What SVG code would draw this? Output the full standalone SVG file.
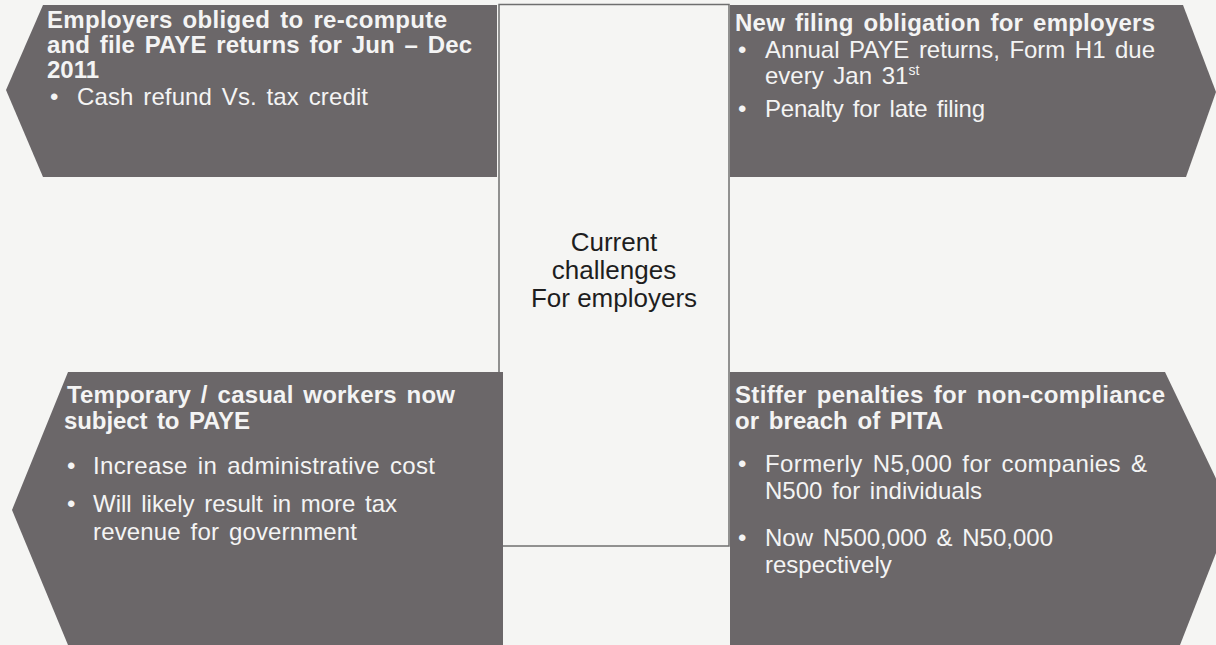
<svg xmlns="http://www.w3.org/2000/svg" width="1216" height="645" viewBox="0 0 1216 645">
  <style>
    .panel { fill: #6b6769; }
    .frame { fill: none; stroke: #6f6f6f; stroke-width: 1.5; }
    text { font-family: "Liberation Sans", Arial, sans-serif; font-size: 24px; fill: #f4f4f4; word-spacing: 3px; }
    .hd { font-weight: bold; }
    .sup { font-size: 14px; }
    .center { fill: #1e1e1e; font-size: 26px; text-anchor: middle; word-spacing: 0; }
  </style>
  <rect width="1216" height="645" fill="#f5f5f3"/>

  <!-- central frame, partly hidden behind the four panels -->
  <g id="connectors">
    <rect class="frame" x="499" y="4.5" width="230" height="541.5"/>
  </g>

  <g id="center-label">
    <text class="center" x="614" y="251">Current</text>
    <text class="center" x="614" y="279">challenges</text>
    <text class="center" x="614" y="307">For employers</text>
  </g>

  <g id="panel-top-left">
    <polygon class="panel" points="43,5 497,5 497,177 43,177 6,90"/>
    <text class="hd" x="47" y="28" textLength="400">Employers obliged to re-compute</text>
    <text class="hd" x="47" y="53" textLength="425">and file PAYE returns for Jun – Dec</text>
    <text class="hd" x="47" y="78">2011</text>
    <text x="50" y="105">•</text>
    <text x="77" y="105" textLength="291">Cash refund Vs. tax credit</text>
  </g>

  <g id="panel-top-right">
    <polygon class="panel" points="730,5 1183,5 1216,92 1186,177 730,177"/>
    <text class="hd" x="735" y="31" textLength="420">New filing obligation for employers</text>
    <text x="738" y="58">•</text>
    <text x="765" y="58" textLength="390">Annual PAYE returns, Form H1 due</text>
    <text x="765" y="84">every Jan 31<tspan class="sup" dy="-9">st</tspan></text>
    <text x="738" y="117">•</text>
    <text x="765" y="117" textLength="220">Penalty for late filing</text>
  </g>

  <g id="panel-bottom-left">
    <polygon class="panel" points="68,372 503,372 503,645 68,645 12,510"/>
    <text class="hd" x="67" y="403" textLength="388">Temporary / casual workers now</text>
    <text class="hd" x="64" y="429" textLength="186">subject to PAYE</text>
    <text x="67" y="474">•</text>
    <text x="93" y="474" textLength="342">Increase in administrative cost</text>
    <text x="67" y="512">•</text>
    <text x="93" y="512" textLength="304">Will likely result in more tax</text>
    <text x="93" y="540" textLength="264">revenue for government</text>
  </g>

  <g id="panel-bottom-right">
    <polygon class="panel" points="730,372 1165,372 1232,512 1180,645 730,645"/>
    <text class="hd" x="735" y="403" textLength="430">Stiffer penalties for non-compliance</text>
    <text class="hd" x="735" y="429" textLength="208">or breach of PITA</text>
    <text x="738" y="472">•</text>
    <text x="765" y="472" textLength="382">Formerly N5,000 for companies &amp;</text>
    <text x="765" y="499" textLength="217">N500 for individuals</text>
    <text x="738" y="546">•</text>
    <text x="765" y="546" textLength="288">Now N500,000 &amp; N50,000</text>
    <text x="765" y="573">respectively</text>
  </g>
</svg>
